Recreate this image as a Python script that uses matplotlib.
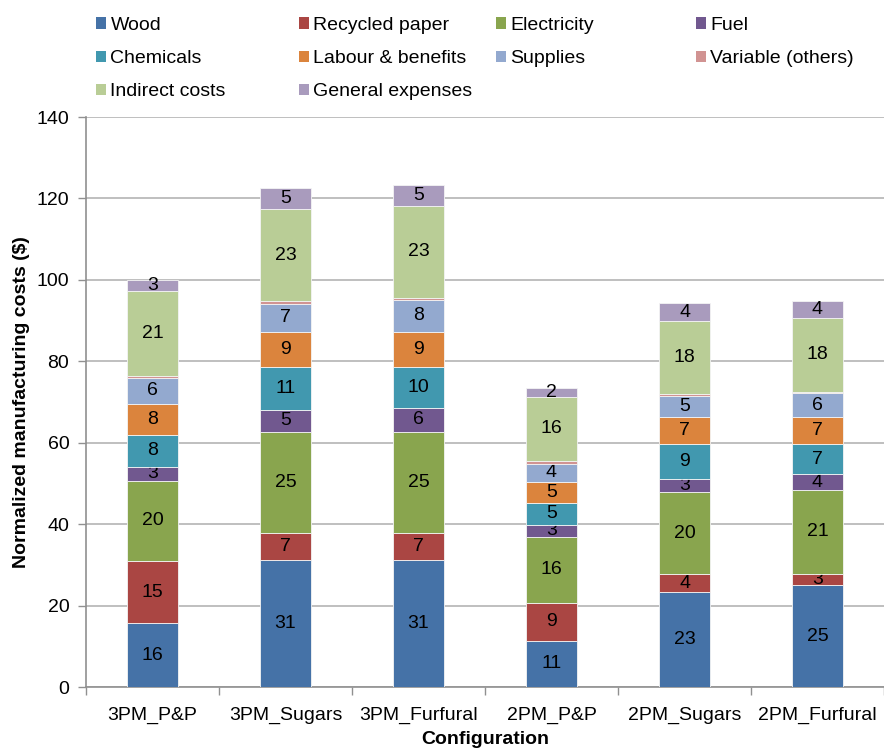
import matplotlib
matplotlib.use("Agg")
import matplotlib.pyplot as plt
import numpy as np
from matplotlib.patches import Patch

plt.rcParams['font.family'] = ['Liberation Sans', 'DejaVu Sans']

configurations = ["3PM_P&P", "3PM_Sugars", "3PM_Furfural", "2PM_P&P", "2PM_Sugars", "2PM_Furfural"]

wood = [15.6, 31.1, 31.1, 11.3, 23.3, 25.0]
recycled_paper = [15.3, 6.7, 6.7, 9.4, 4.4, 2.8]
electricity = [19.8, 24.9, 24.9, 16.1, 20.1, 20.7]
fuel = [3.4, 5.3, 5.9, 3.1, 3.4, 3.7]
chemicals = [7.9, 10.6, 10.0, 5.4, 8.6, 7.4]
labour = [7.6, 8.6, 8.7, 5.1, 6.6, 6.7]
supplies = [6.3, 6.9, 7.7, 4.4, 5.1, 5.8]
variable_others = [0.6, 0.6, 0.5, 0.7, 0.4, 0.4]
indirect_costs = [20.7, 22.7, 22.7, 15.8, 17.9, 18.1]
general_expenses = [2.8, 5.1, 5.1, 2.1, 4.4, 4.3]

series = [
    ("Wood", wood, "#4572A7", True),
    ("Recycled paper", recycled_paper, "#AA4643", True),
    ("Electricity", electricity, "#89A54E", True),
    ("Fuel", fuel, "#71588F", True),
    ("Chemicals", chemicals, "#4198AF", True),
    ("Labour & benefits", labour, "#DB843D", True),
    ("Supplies", supplies, "#93A9CF", True),
    ("Variable (others)", variable_others, "#D19392", False),
    ("Indirect costs", indirect_costs, "#B9CD96", True),
    ("General expenses", general_expenses, "#A99BBD", True),
]

fig = plt.figure(figsize=(8.84, 7.5), dpi=100)
ax = fig.add_axes([86 / 884, 63 / 750, 798 / 884, 570 / 750])

x = np.arange(len(configurations))
bottom = np.zeros(len(configurations))
handles = []
for name, vals, color, labelled in series:
    vals = np.array(vals)
    bars = ax.bar(x, vals, width=0.39, bottom=bottom, color=color,
                  edgecolor="#f4f4f4", linewidth=0.6, zorder=3)
    if labelled:
        ax.bar_label(bars, fmt="%.0f", label_type="center", fontsize=14, color="black")
    bottom += vals
    handles.append(Patch(facecolor=color, edgecolor="none", label=name))

ax.set_xlim(-0.5, len(configurations) - 0.5)
ax.set_ylim(0, 140)
ax.set_yticks(np.arange(0, 141, 20))
ax.yaxis.grid(True, color="#b4b4b4", linewidth=1.2, zorder=0)
ax.set_axisbelow(True)

ax.set_xticks(x)
ax.set_xticklabels(configurations, fontsize=14)
ax.tick_params(axis="x", which="major", length=0, pad=14)
ax.set_xticks(np.arange(-0.5, len(configurations), 1.0), minor=True)
ax.tick_params(axis="x", which="minor", length=6, color="#909090", width=1)
ax.tick_params(axis="y", length=6, color="#909090", width=1, labelsize=14, pad=6)

for side in ["top", "right"]:
    ax.spines[side].set_visible(False)
for side in ["left", "bottom"]:
    ax.spines[side].set_color("#909090")
    ax.spines[side].set_linewidth(1.2)

ax.set_xlabel("Configuration", fontsize=14, fontweight="bold", labelpad=5)
ax.set_ylabel("Normalized manufacturing costs ($)", fontsize=14, fontweight="bold", labelpad=5)

# legend laid out as four fixed-width columns, filled row by row
columns = [[0, 4, 8], [1, 5, 9], [2, 6], [3, 7]]
col_x = [92, 295, 492, 692]
for cx, idxs in zip(col_x, columns):
    fig.legend(handles=[handles[i] for i in idxs], loc="upper left",
               bbox_to_anchor=(cx / 884, 1 - 13 / 750), frameon=False,
               fontsize=14, handlelength=0.5, handleheight=0.5,
               handletextpad=0.25, labelspacing=0.83, borderpad=0.2,
               borderaxespad=0)

fig.savefig("out.png", dpi=100)
